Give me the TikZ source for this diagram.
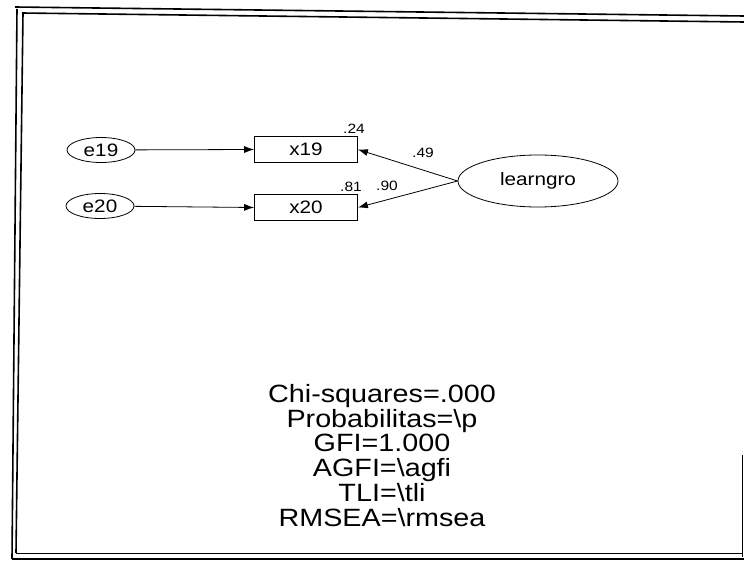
\documentclass[tikz,border=0pt]{standalone}
\usepackage{fontspec}
\usepackage{graphicx}
\setmainfont{Liberation Sans}
\usetikzlibrary{shapes.geometric,arrows.meta}
\newcommand{\wide}[1]{\scalebox{1.15}[1]{#1}}
\begin{document}
\begin{tikzpicture}[x=1pt,y=-1pt,
  frame/.style={line width=1.6pt},
  latent/.style={ellipse,draw,line width=0.8pt,inner sep=0pt,font=\fontsize{18}{18}\selectfont},
  obs/.style={rectangle,draw,line width=0.8pt,minimum width=103pt,minimum height=26pt,inner sep=0pt,font=\fontsize{18}{18}\selectfont},
  path/.style={line width=0.8pt,-{Latex[length=10pt,width=7pt]}},
  coef/.style={font=\fontsize{13.5}{13.5}\selectfont,inner sep=0pt},
  fit/.style={font=\fontsize{25}{22.8}\selectfont,inner sep=0pt}]
\useasboundingbox (0,0) rectangle (744,567);
% frame
\draw[frame] (15,7) -- (744,16);
\draw[frame] (22,13) -- (744,22);
\draw[frame] (17,9) -- (12,559);
\draw[frame] (23,13) -- (16,553);
\draw[frame] (12,559) -- (744,559);
\draw[line width=0.8pt] (16,553) -- (742,553);
\draw[line width=1pt] (742,455) -- (742,557);
% nodes
\node[latent,minimum width=68pt,minimum height=25pt] (e19) at (101,150) {\wide{e19}};
\node[latent,minimum width=68pt,minimum height=25pt] (e20) at (100,206) {\wide{e20}};
\node[obs] (x19) at (306,149.5) {\wide{x19}};
\node[obs] (x20) at (306,207.5) {\wide{x20}};
\node[latent,minimum width=160pt,minimum height=52pt] (lg) at (538,181) {\wide{learngro}};
% paths
\draw[path] (e19) -- (x19.west);
\draw[path] (e20) -- (x20.west);
\draw[path] (lg.west) -- (x19.east);
\draw[path] (lg.west) -- (x20.east);
% coefficients
\node[coef] (c24) at (354,129) {\wide{.24}};
\node[coef] (c81) at (351,187) {\wide{.81}};
\node[coef] (c90) at (387,186) {\wide{.90}};
\node[coef] (c49) at (423,153) {\wide{.49}};
% fit block
\node[fit] (fitbox) at (382,459) {\wide{\begin{tabular}{@{}c@{}}Chi-squares=.000\\Probabilitas=\textbackslash p\\GFI=1.000\\AGFI=\textbackslash agfi\\TLI=\textbackslash tli\\RMSEA=\textbackslash rmsea\end{tabular}}};
\end{tikzpicture}
\end{document}
